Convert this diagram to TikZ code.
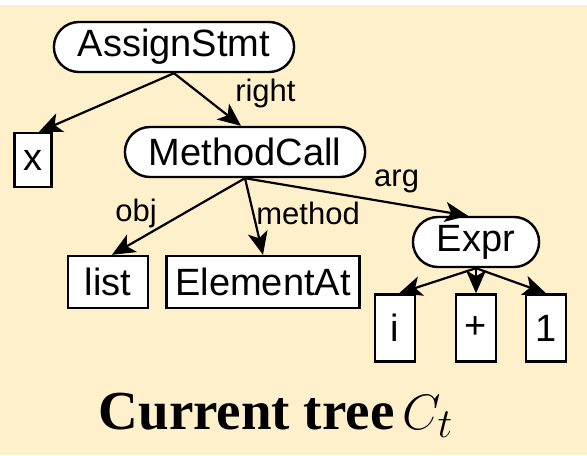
\documentclass[tikz,border=0pt]{standalone}
\usepackage{fontspec}
\setmainfont{Liberation Serif}
\setsansfont{Liberation Sans}
\usetikzlibrary{arrows.meta}
\definecolor{paper}{RGB}{255,240,204}
\tikzset{
  ast/.style={draw,fill=white,line width=1.2pt,inner ysep=1pt,font=\sffamily\fontsize{19}{21}\selectfont},
  inner/.style={ast,rounded corners=12.5pt,minimum height=25pt,inner xsep=12pt},
  leaf/.style={ast,minimum height=26pt,inner xsep=4.5pt},
  tok/.style={leaf,minimum width=20pt,minimum height=33.5pt},
  lbl/.style={font=\sffamily\fontsize{15.5}{17}\selectfont,inner sep=1pt},
  edge/.style={line width=1.1pt,-{Stealth[length=11.5pt,width=10pt,inset=3pt]}}
}
\begin{document}
\begin{tikzpicture}[x=0.5pt,y=-0.5pt]
\useasboundingbox (0,0) rectangle (587,455);
\fill[white] (0,0) rectangle (587,455);
\fill[paper] (0,5) rectangle (587,455);
% tree nodes
\node[inner] (assign) at (174,47) {AssignStmt};
\node[leaf,minimum height=27pt] (x) at (33,160) {x};
\node[inner] (mcall) at (245,152) {MethodCall};
\node[leaf,minimum width=40pt] (list) at (108,282) {list};
\node[leaf] (elem) at (263,282) {ElementAt};
\node[inner] (expr) at (476,242) {Expr};
\node[tok] (i) at (395,328) {i};
\node[tok] (plus) at (476,328) {+};
\node[tok] (one) at (546,328) {1};
% edges
\draw[edge] (assign.south) -- ([xshift=3pt]x.north);
\draw[edge] (assign.south) -- node[lbl,pos=.45,anchor=west,xshift=14pt,yshift=1.5pt]{right} ([xshift=-2pt]mcall.north);
\draw[edge] (mcall.south) -- node[lbl,pos=.46,anchor=east,xshift=-12pt]{obj} ([xshift=2pt]list.north);
\draw[edge] (mcall.south) -- node[lbl,pos=.46,anchor=west]{method} (elem.north);
\draw[edge] (mcall.south) -- node[lbl,pos=.68,anchor=south,yshift=4pt]{arg} ([xshift=-4pt]expr.north);
\draw[edge] (expr.south) -- ([xshift=2pt]i.north);
\draw[edge] (expr.south) -- (plus.north);
\draw[edge] (expr.south) -- (one.north);
\node (title) at (276,415) {\bfseries\fontsize{27.5}{30}\selectfont Current tree\hspace{-0.1em} $C_t$};
\end{tikzpicture}
\end{document}
